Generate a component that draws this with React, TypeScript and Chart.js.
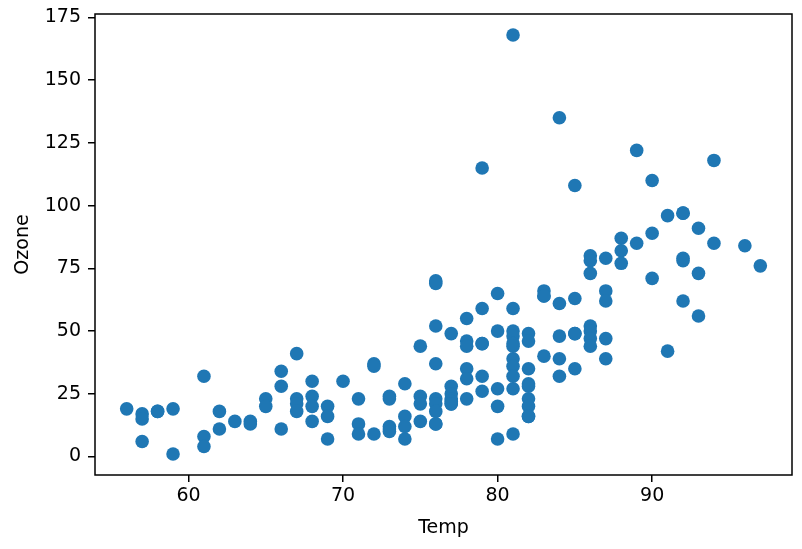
import React, { useEffect, useRef } from "react";
import { Chart, registerables } from "chart.js";

Chart.register(...registerables);

// Temp (°F) and Ozone (ppb), paired by index
const temp: number[] = [
  56,
  57, 57, 57,
  58, 58,
  59, 59,
  61, 61, 61,
  62, 62,
  63,
  64, 64,
  65, 65,
  66, 66, 66,
  67, 67, 67, 67,
  68, 68, 68, 68,
  69, 69, 69,
  70,
  71, 71, 71,
  72, 72, 72,
  73, 73, 73, 73, 73,
  74, 74, 74, 74,
  75, 75, 75, 75,
  76, 76, 76, 76, 76, 76, 76, 76, 76,
  77, 77, 77, 77, 77, 77, 77,
  78, 78, 78, 78, 78, 78,
  79, 79, 79, 79, 79, 79,
  80, 80, 80, 80, 80,
  81, 81, 81, 81, 81, 81, 81, 81, 81, 81, 81,
  82, 82, 82, 82, 82, 82, 82, 82, 82,
  83, 83, 83, 83,
  84, 84, 84, 84, 84,
  85, 85, 85, 85, 85,
  86, 86, 86, 86, 86, 86, 86,
  87, 87, 87, 87, 87,
  88, 88, 88,
  89, 89,
  90, 90, 90,
  91, 91,
  92, 92, 92, 92, 92,
  93, 93, 93,
  94, 94,
  96,
  97,
];

const ozone: number[] = [
  19,
  17, 15, 6,
  18, 18,
  19, 1,
  32, 8, 4,
  18, 11,
  14,
  14, 13,
  23, 20,
  34, 28, 11,
  41, 23, 21, 18,
  30, 24, 20, 14,
  20, 16, 7,
  30,
  23, 13, 9,
  37, 36, 9,
  24, 23, 12, 11, 10,
  29, 16, 12, 7,
  44, 24, 21, 14,
  70, 69, 52, 37, 23, 21, 18, 13, 13,
  49, 28, 25, 23, 22, 21, 21,
  55, 46, 44, 35, 31, 23,
  115, 59, 45, 45, 32, 26,
  65, 50, 27, 20, 7,
  168, 59, 50, 48, 45, 44, 39, 36, 32, 27, 9,
  49, 46, 35, 29, 28, 23, 20, 16, 16,
  66, 64, 64, 40,
  135, 61, 48, 39, 32,
  108, 63, 49, 49, 35,
  80, 78, 73, 52, 50, 47, 44,
  79, 66, 62, 47, 39,
  87, 82, 77,
  122, 85,
  110, 89, 71,
  96, 42,
  97, 97, 79, 78, 62,
  91, 73, 56,
  118, 85,
  84,
  76,
];

const xTicks: number[] = [60, 70, 80, 90];
const yTicks: number[] = [0, 25, 50, 75, 100, 125, 150, 175];

const FONT = "'DejaVu Sans', sans-serif";

const framePlugin = {
  id: "frame",
  afterDraw(chart: any) {
    const { ctx, chartArea } = chart;
    ctx.save();
    ctx.strokeStyle = "#000";
    ctx.lineWidth = 1.5;
    ctx.strokeRect(
      chartArea.left,
      chartArea.top,
      chartArea.right - chartArea.left,
      chartArea.bottom - chartArea.top
    );
    ctx.restore();
  },
};

export default function App() {
  const ref = useRef<HTMLCanvasElement | null>(null);

  useEffect(() => {
    if (!ref.current) return;
    const points = temp.map((t, i) => ({ x: t, y: ozone[i] }));
    const xmin = Math.min(...temp), xmax = Math.max(...temp);
    const ymin = Math.min(...ozone), ymax = Math.max(...ozone);
    const xm = (xmax - xmin) * 0.05, ym = (ymax - ymin) * 0.05;

    const chart = new Chart(ref.current, {
      type: "scatter",
      data: {
        datasets: [
          {
            data: points,
            backgroundColor: "#1f77b4",
            borderWidth: 0,
            pointRadius: 6.8,
            pointHoverRadius: 6.8,
          },
        ],
      },
      options: {
        animation: false,
        responsive: false,
        events: [],
        layout: { padding: { left: 0, top: 14, right: 10, bottom: 0 } },
        plugins: { legend: { display: false }, tooltip: { enabled: false } },
        scales: {
          x: {
            type: "linear",
            min: xmin - xm,
            max: xmax + xm,
            afterBuildTicks: (s: any) => {
              s.ticks = xTicks.map((v) => ({ value: v }));
            },
            afterFit: (s: any) => {
              s.height = 74;
              s.paddingLeft = 0;
              s.paddingRight = 0;
            },
            border: { display: false },
            grid: {
              drawOnChartArea: false,
              drawTicks: true,
              tickLength: 7,
              color: "#000",
              lineWidth: 1.5,
            },
            ticks: {
              color: "#000",
              padding: 3,
              maxRotation: 0,
              font: { family: FONT, size: 19 },
            },
            title: {
              display: true,
              text: "Temp",
              color: "#000",
              font: { family: FONT, size: 19 },
              padding: { top: 0, bottom: 10 },
            },
          },
          y: {
            type: "linear",
            min: ymin - ym,
            max: ymax + ym,
            afterBuildTicks: (s: any) => {
              s.ticks = yTicks.map((v) => ({ value: v }));
            },
            afterFit: (s: any) => {
              s.width = 95;
              s.paddingTop = 0;
              s.paddingBottom = 0;
            },
            border: { display: false },
            grid: {
              drawOnChartArea: false,
              drawTicks: true,
              tickLength: 7,
              color: "#000",
              lineWidth: 1.5,
            },
            ticks: {
              color: "#000",
              padding: 7,
              font: { family: FONT, size: 19 },
            },
            title: {
              display: true,
              text: "Ozone",
              color: "#000",
              font: { family: FONT, size: 19 },
              padding: { top: 12, bottom: 0 },
            },
          },
        },
      },
      plugins: [framePlugin],
    });
    return () => chart.destroy();
  }, []);

  return (
    <div style={{ position: "fixed", left: 0, top: 0, width: 802, height: 549, background: "#fff" }}>
      <canvas ref={ref} width={802} height={549} style={{ width: 802, height: 549, display: "block" }} />
    </div>
  );
}
